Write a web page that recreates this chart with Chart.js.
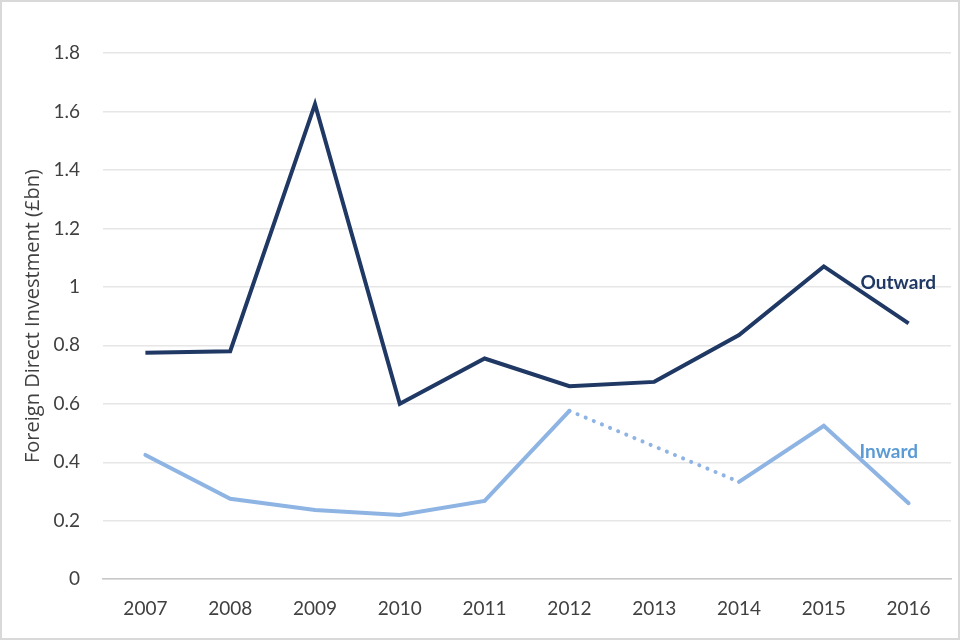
<!DOCTYPE html>
<html lang="en">
<head>
  <meta charset="UTF-8" />
  <title>Foreign Direct Investment</title>
  <script src="https://cdn.jsdelivr.net/npm/chart.js"></script>
  <style>
    body { margin: 0; background: #fff; }
    .frame { width: 956px; height: 636px; border: 2px solid #d9d9d9; position: relative; }
    canvas { display: block; }
  </style>
</head>
<body>
  <div class="frame"><canvas id="fdiChart" width="956" height="636"></canvas></div>

  <script>
    const years = ["2007", "2008", "2009", "2010", "2011", "2012", "2013", "2014", "2015", "2016"];
    const outward = [0.775, 0.78, 1.625, 0.60, 0.755, 0.66, 0.675, 0.835, 1.07, 0.875];
    // 2013 inward value not available - dotted line bridges the gap
    const inward = [0.425, 0.275, 0.237, 0.22, 0.268, 0.576, null, 0.333, 0.525, 0.26];
    const seriesNames = ["Outward", "Inward"];
    const labelValues = [1.015, 0.435];

    const outwardColor = "#1f3864";
    const inwardColor = "#8eb4e3";
    const inwardText = "#5b9bd5";
    const font = "Lato, 'Open Sans', sans-serif";

    // series names written next to the end of each line
    const endLabels = {
      id: "endLabels",
      afterDatasetsDraw(chart) {
        const { ctx, scales } = chart;
        const xEnd = scales.x.getPixelForValue(years.length - 1);
        ctx.save();
        ctx.font = "bold 19px " + font;
        ctx.textBaseline = "middle";
        ctx.fillStyle = outwardColor;
        ctx.fillText(seriesNames[0], xEnd - 48, scales.y.getPixelForValue(labelValues[0]));
        ctx.fillStyle = inwardText;
        ctx.fillText(seriesNames[1], xEnd - 49, scales.y.getPixelForValue(labelValues[1]));
        ctx.restore();
      }
    };

    new Chart(document.getElementById("fdiChart"), {
      type: "line",
      data: {
        labels: years,
        datasets: [
          {
            label: seriesNames[0],
            data: outward,
            borderColor: outwardColor,
            borderWidth: 4,
            pointRadius: 0,
            tension: 0
          },
          {
            label: seriesNames[1],
            data: inward,
            borderColor: inwardColor,
            borderWidth: 4,
            borderCapStyle: "round",
            pointRadius: 0,
            tension: 0,
            spanGaps: true,
            segment: {
              borderDash: ctx => (ctx.p0.skip || ctx.p1.skip) ? [0.1, 8.7] : undefined
            }
          }
        ]
      },
      options: {
        responsive: false,
        animation: false,
        layout: { padding: { top: 51, right: 7, left: 0, bottom: 0 } },
        plugins: { legend: { display: false }, tooltip: { enabled: false } },
        scales: {
          x: {
            offset: true,
            grid: { display: false, drawTicks: false },
            border: { color: "#c8c8c8", width: 1.5 },
            ticks: { color: "#404040", padding: 18, font: { family: font, size: 19 } }
          },
          y: {
            min: 0,
            max: 1.8,
            afterFit: scale => { scale.width = 101; },
            ticks: {
              stepSize: 0.2,
              color: "#404040",
              padding: 23,
              font: { family: font, size: 19 },
              callback: v => Math.round(v * 10) / 10
            },
            grid: { color: "#e6e6e6", lineWidth: 1.5, drawTicks: false },
            border: { display: false },
            title: {
              display: true,
              text: "Foreign Direct Investment (£bn)",
              color: "#404040",
              font: { family: "'Open Sans', sans-serif", size: 20 },
              padding: { top: 19, bottom: 0 }
            }
          }
        }
      },
      plugins: [endLabels]
    });
  </script>
</body>
</html>
